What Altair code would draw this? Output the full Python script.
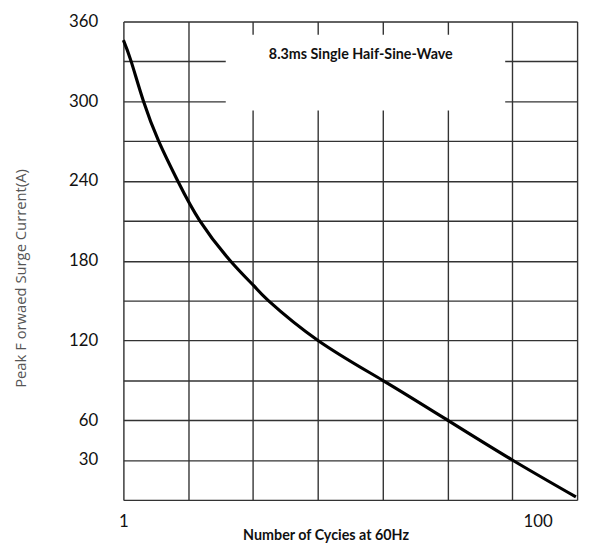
import altair as alt
import pandas as pd

# Curve (cycles, peak forward surge current A)
cycles = [1.0, 1.09, 1.25, 1.48, 1.83, 2.34, 3.28, 4.27, 5.01, 8.7, 17.85, 36.7, 75.4, 153.0]
current = [346, 330, 300, 270, 240, 210, 180, 161, 150, 120, 90, 60, 30, 2.2]

# Axis design
x_domain = [1, 155]
x_grid_count = 7
x_label_values = [1, 100]
y_grid = [0, 30, 60, 90, 120, 150, 180, 210, 240, 270, 300, 330, 360]
y_label_values = [30, 60, 120, 180, 240, 300, 360]

# Annotation box (data coordinates)
box_x = [3.12]
box_x2 = [69.7]
box_y = [293]
box_y2 = [350]
note_text = ["8.3ms Single Haif-Sine-Wave"]
note_x = [14.0]
note_y = [334.8]

x_grid = [x_domain[1] ** (k / x_grid_count) for k in range(x_grid_count + 1)]
x_grid[0] = 1.0

df = pd.DataFrame({"cycles": cycles, "current": current})
box_df = pd.DataFrame({"x": box_x, "x2": box_x2, "y": box_y, "y2": box_y2})
note_df = pd.DataFrame({"x": note_x, "y": note_y, "t": note_text})

LBL = "Lato"

x_scale = alt.Scale(type="log", domain=x_domain, nice=False)
y_scale = alt.Scale(domain=[0, 360], nice=False)

x_label_test = " || ".join(f"datum.value == {v}" for v in x_label_values)
y_label_list = ",".join(str(v) for v in y_label_values)

x_axis = alt.Axis(
    values=x_grid + [100],
    labelExpr=f"({x_label_test}) ? format(datum.value, 'd') : ''",
    grid=True,
    gridColor={"condition": {"test": "datum.value == 100", "value": "transparent"}, "value": "#333333"},
    gridWidth=1.4,
    ticks=False,
    domain=False,
    labelFlush=False,
    labelOverlap=False,
    labelFont=LBL,
    labelFontSize=17,
    labelColor="#111111",
    labelPadding=14,
    title="Number of Cycies at 60Hz",
    titleFont=LBL,
    titleFontSize=14.5,
    titleFontWeight="bold",
    titleColor="#111111",
    titleX=205,
    titleY=36,
    titleBaseline="middle",
    titleAlign="center",
)

y_axis = alt.Axis(
    values=y_grid,
    labelExpr=f"indexof([{y_label_list}], datum.value) >= 0 ? datum.label : ''",
    grid=True,
    gridColor="#333333",
    gridWidth=1.4,
    ticks=False,
    domain=False,
    labelFont=LBL,
    labelFontSize=17,
    labelColor="#111111",
    labelPadding=26,
    labelOverlap=False,
    title="Peak F orwaed Surge Current(A)",
    titleFont="Open Sans",
    titleFontSize=15,
    titleFontWeight="normal",
    titleColor="#555555",
    titleX=-104,
    titleY=260,
    titleBaseline="middle",
    titleAlign="center",
)

line = alt.Chart(df).mark_line(color="black", strokeWidth=3.2, interpolate="natural").encode(
    x=alt.X("cycles:Q", scale=x_scale, axis=x_axis),
    y=alt.Y("current:Q", scale=y_scale, axis=y_axis),
)

box = alt.Chart(box_df).mark_rect(color="white").encode(
    x=alt.X("x:Q", scale=x_scale),
    x2="x2:Q",
    y=alt.Y("y:Q", scale=y_scale),
    y2="y2:Q",
)

note = alt.Chart(note_df).mark_text(
    font=LBL, fontSize=14.5, fontWeight="bold", color="#111111", align="center", baseline="middle"
).encode(
    x=alt.X("x:Q", scale=x_scale),
    y=alt.Y("y:Q", scale=y_scale),
    text="t:N",
)

chart = alt.layer(box, line, note).properties(
    width=460,
    height=485,
    autosize=alt.AutoSizeParams(type="none"),
    padding={"left": 117, "top": 10, "right": 7, "bottom": 40},
).configure_view(stroke="#333333", strokeWidth=1.6).configure(background="white")

chart.save("out.html", embed_options={"renderer": "svg", "actions": False})
